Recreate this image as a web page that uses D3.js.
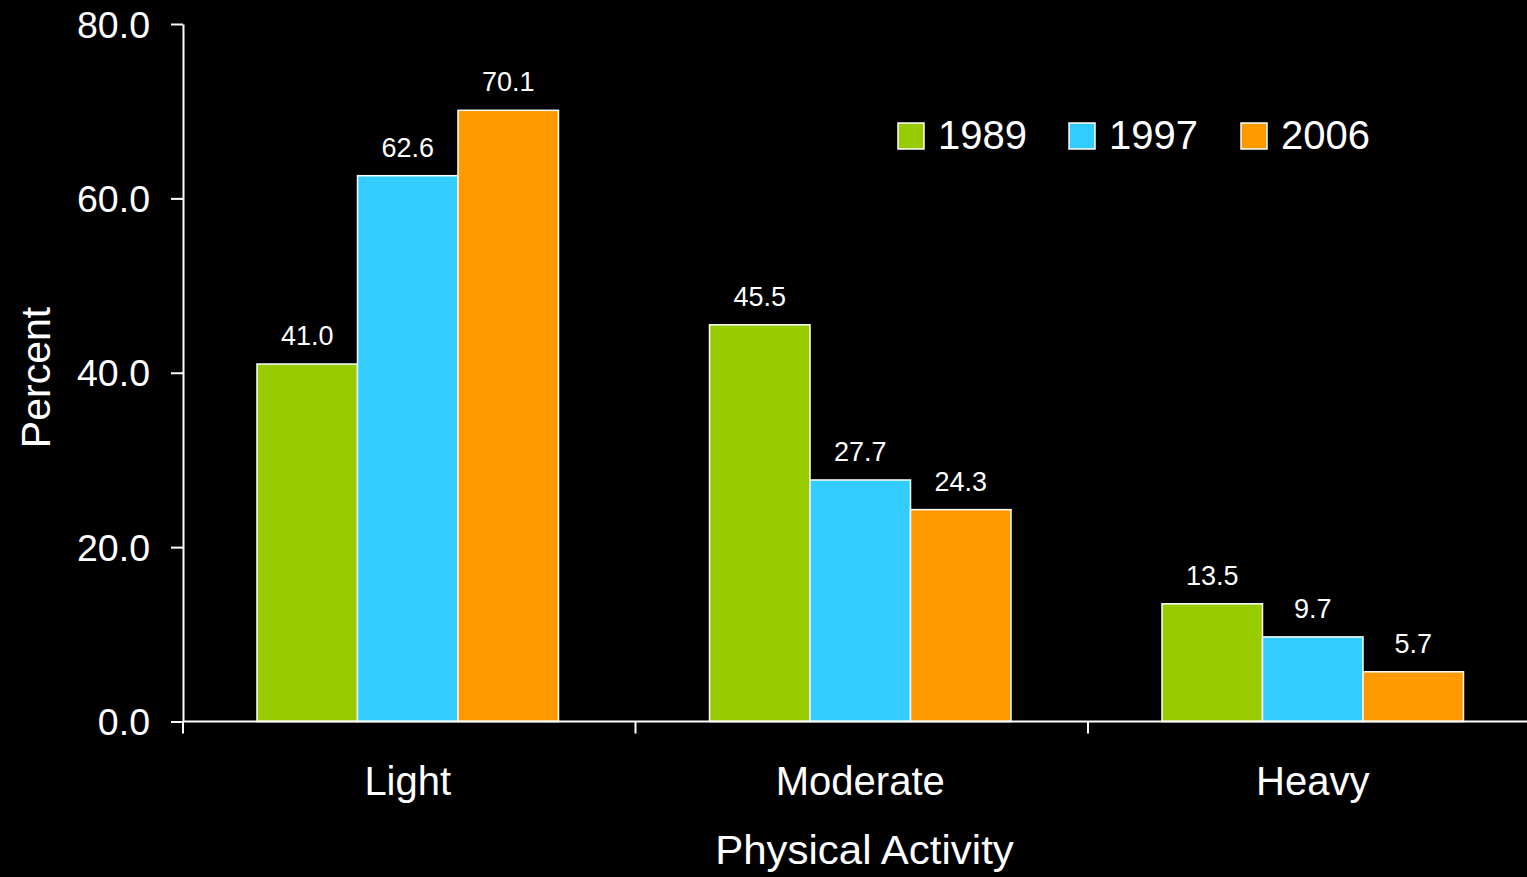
<!DOCTYPE html>
<html>
<head>
<meta charset="utf-8">
<script src="https://cdn.jsdelivr.net/npm/d3@7/dist/d3.min.js"></script>
<style>
  html, body { margin: 0; padding: 0; background: #000; }
  svg { display: block; }
  text { font-family: "Liberation Sans", Arial, sans-serif; fill: #fff; }
</style>
</head>
<body>
<svg id="chart" width="1527" height="877"></svg>
<script>
// Share of people by physical activity level, per survey year
const categories = ["Light", "Moderate", "Heavy"];
const years = ["1989", "1997", "2006"];
const values1989 = [41.0, 45.5, 13.5];
const values1997 = [62.6, 27.7, 9.7];
const values2006 = [70.1, 24.3, 5.7];
const yTicks = [0, 20, 40, 60, 80];
const colors = ["#99CC00", "#33CCFF", "#FF9900"];

const seriesValues = [values1989, values1997, values2006];
const rows = categories.map((c, i) => ({
  category: c,
  bars: years.map((yr, j) => ({ year: yr, value: seriesValues[j][i], color: colors[j] }))
}));

const svg = d3.select("#chart");

const x = d3.scaleBand().domain(categories).range([183, 1540.5]).padding(0);
const xInner = d3.scaleBand().domain(years).range([74, 375.5]).padding(0);
const y = d3.scaleLinear().domain([0, 80]).range([721.5, 24]);

// Bars
const groups = svg.append("g").selectAll("g")
  .data(rows).join("g")
  .attr("transform", d => `translate(${x(d.category)},0)`);

groups.selectAll("rect")
  .data(d => d.bars).join("rect")
  .attr("x", d => xInner(d.year))
  .attr("width", xInner.bandwidth())
  .attr("y", d => y(d.value))
  .attr("height", d => y(0) - y(d.value))
  .attr("fill", d => d.color)
  .attr("stroke", "#fff")
  .attr("stroke-width", 1.5);

groups.selectAll("text.val")
  .data(d => d.bars).join("text")
  .attr("class", "val")
  .attr("x", d => xInner(d.year) + xInner.bandwidth() / 2)
  .attr("y", d => y(d.value) - 19)
  .attr("text-anchor", "middle")
  .style("font-size", "27px")
  .text(d => d.value.toFixed(1));

// Y axis
const yAxis = svg.append("g")
  .attr("transform", "translate(183,0)")
  .call(d3.axisLeft(y).tickValues(yTicks).tickFormat(d3.format(".1f")).tickSize(12).tickSizeOuter(0).tickPadding(21));
yAxis.select(".domain").attr("stroke", "#fff").attr("stroke-width", 2);
yAxis.selectAll(".tick line").attr("stroke", "#fff").attr("stroke-width", 2);
yAxis.selectAll(".tick text")
  .style("font-size", "37.5px")
  .style("font-family", "'Liberation Sans', Arial, sans-serif")
  .attr("fill", "#fff")
  .attr("dy", "0.35em");

// X axis
const xAxis = svg.append("g");
xAxis.append("line")
  .attr("x1", x.range()[0]).attr("x2", x.range()[1])
  .attr("y1", y(0)).attr("y2", y(0))
  .attr("stroke", "#fff").attr("stroke-width", 2);
xAxis.selectAll("line.tick")
  .data(categories).join("line")
  .attr("class", "tick")
  .attr("x1", d => x(d)).attr("x2", d => x(d))
  .attr("y1", y(0)).attr("y2", y(0) + 12)
  .attr("stroke", "#fff").attr("stroke-width", 2);
xAxis.selectAll("text")
  .data(categories).join("text")
  .attr("x", d => x(d) + x.bandwidth() / 2 - 1.5)
  .attr("y", 795)
  .attr("text-anchor", "middle")
  .style("font-size", "40px")
  .text(d => d);

// Axis titles
svg.append("text")
  .attr("transform", "translate(864.5,864) scale(1.05,1)")
  .attr("text-anchor", "middle")
  .style("font-size", "40px")
  .text("Physical Activity");

svg.append("text")
  .attr("transform", "translate(50,377.5) rotate(-90)")
  .attr("text-anchor", "middle")
  .style("font-size", "41px")
  .text("Percent");

// Legend
const legendX = [898, 1069, 1241];
const legend = svg.append("g").selectAll("g")
  .data(years).join("g")
  .attr("transform", (d, i) => `translate(${legendX[i]},123)`);
legend.append("rect")
  .attr("width", 26).attr("height", 26)
  .attr("fill", (d, i) => colors[i])
  .attr("stroke", "#fff").attr("stroke-width", 1.5);
legend.append("text")
  .attr("x", 40).attr("y", 26)
  .style("font-size", "40px")
  .text(d => d);
</script>
</body>
</html>
